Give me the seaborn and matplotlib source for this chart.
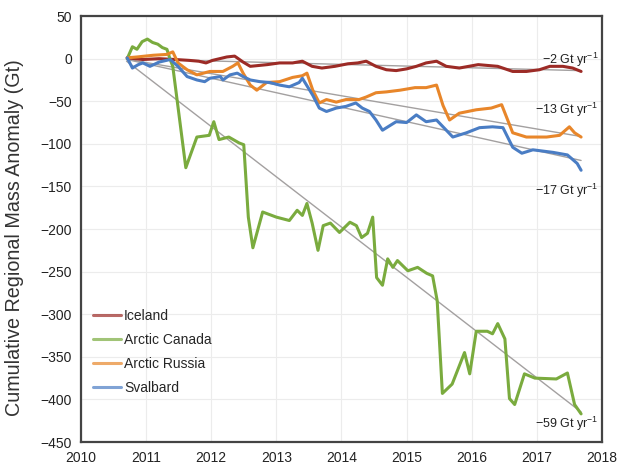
import numpy as np
import pandas as pd
import seaborn as sns
import matplotlib.pyplot as plt

# Cumulative regional mass anomaly (Gt)
iceland_t = [2010.71, 2010.95, 2011.2, 2011.45, 2011.66, 2011.81, 2011.92, 2012.02, 2012.24, 2012.36,
             2012.49, 2012.6, 2012.86, 2013.05, 2013.25, 2013.4, 2013.55, 2013.7, 2013.9, 2014.1,
             2014.25, 2014.38, 2014.53, 2014.69, 2014.84, 2015.0, 2015.15, 2015.3, 2015.46, 2015.61,
             2015.81, 2016.1, 2016.4, 2016.63, 2016.84, 2017.04, 2017.2, 2017.4, 2017.55, 2017.68]
iceland_v = [1, -1, 0, -1, -2, -3, -5, -2, 2, 3,
             -4, -9, -7, -5, -5, -3, -9, -11, -9, -6,
             -5, -3, -9, -13, -14, -12, -9, -5, -3, -9,
             -11, -7, -9, -15, -15, -13, -9, -9, -11, -15]

canada_t = [2010.71, 2010.79, 2010.86, 2010.94, 2011.02, 2011.1, 2011.18, 2011.25, 2011.32, 2011.37,
            2011.41, 2011.61, 2011.78, 2011.97, 2012.04, 2012.12, 2012.27, 2012.43, 2012.5, 2012.57,
            2012.64, 2012.79, 2013.0, 2013.2, 2013.32, 2013.4, 2013.47, 2013.55, 2013.64, 2013.72,
            2013.83, 2013.97, 2014.13, 2014.23, 2014.31, 2014.4, 2014.48, 2014.54, 2014.63, 2014.71,
            2014.79, 2014.86, 2015.02, 2015.17, 2015.31, 2015.4, 2015.47, 2015.55, 2015.7, 2015.89,
            2015.97, 2016.07, 2016.24, 2016.32, 2016.4, 2016.51, 2016.58, 2016.66, 2016.81, 2016.97,
            2017.3, 2017.47, 2017.58, 2017.68]
canada_v = [0, 14, 11, 20, 23, 19, 17, 13, 11, -1,
            -9, -128, -92, -90, -74, -95, -92, -99, -101, -186,
            -222, -180, -186, -190, -178, -184, -170, -193, -225, -196,
            -193, -204, -192, -196, -210, -205, -186, -257, -266, -235,
            -245, -237, -249, -245, -252, -255, -284, -393, -382, -345,
            -370, -320, -320, -323, -311, -329, -399, -406, -370, -375,
            -376, -369, -406, -417]

russia_t = [2010.71, 2010.86, 2011.11, 2011.32, 2011.41, 2011.49, 2011.63, 2011.78, 2011.98, 2012.18,
            2012.33, 2012.41, 2012.49, 2012.6, 2012.7, 2012.85, 2013.05, 2013.25, 2013.4, 2013.47,
            2013.56, 2013.66, 2013.77, 2013.92, 2014.07, 2014.27, 2014.38, 2014.53, 2014.69, 2014.9,
            2015.13, 2015.3, 2015.46, 2015.56, 2015.66, 2015.81, 2016.07, 2016.3, 2016.46, 2016.63,
            2016.84, 2017.15, 2017.35, 2017.5, 2017.58, 2017.68]
russia_v = [1, 2, 4, 5, 8, -5, -13, -19, -15, -15,
            -9, -5, -17, -31, -37, -28, -27, -22, -20, -17,
            -37, -52, -48, -51, -48, -48, -45, -40, -39, -37,
            -34, -34, -31, -55, -72, -64, -60, -58, -54, -87,
            -92, -92, -90, -80, -87, -92]

svalbard_t = [2010.71, 2010.79, 2010.88, 2010.95, 2011.06, 2011.2, 2011.37, 2011.49, 2011.63, 2011.78,
              2011.9, 2011.98, 2012.14, 2012.18, 2012.29, 2012.4, 2012.49, 2012.6, 2012.75, 2012.9,
              2013.05, 2013.2, 2013.35, 2013.4, 2013.56, 2013.66, 2013.77, 2013.92, 2014.07, 2014.22,
              2014.32, 2014.43, 2014.53, 2014.63, 2014.84, 2015.0, 2015.15, 2015.3, 2015.46, 2015.56,
              2015.71, 2015.92, 2016.12, 2016.32, 2016.48, 2016.63, 2016.77, 2016.94, 2017.25, 2017.47,
              2017.62, 2017.68]
svalbard_v = [1, -11, -7, -5, -9, -4, -1, -9, -21, -25,
              -27, -23, -21, -25, -19, -17, -21, -25, -27, -28,
              -31, -33, -28, -23, -43, -58, -62, -58, -56, -52,
              -58, -62, -72, -84, -74, -75, -66, -74, -72, -80,
              -92, -87, -81, -80, -81, -104, -111, -107, -110, -113,
              -123, -131]

regions = ["Iceland", "Arctic Canada", "Arctic Russia", "Svalbard"]
rates = [-2, -13, -17, -59]  # Gt/yr, trend labels
rate_label_y = [-1, -60, -155, -429]
colors = ["#9c2b26", "#7aab3e", "#e8862a", "#4a7dc4"]

df = pd.concat([
    pd.DataFrame({"year": iceland_t, "mass": iceland_v, "region": "Iceland"}),
    pd.DataFrame({"year": canada_t, "mass": canada_v, "region": "Arctic Canada"}),
    pd.DataFrame({"year": russia_t, "mass": russia_v, "region": "Arctic Russia"}),
    pd.DataFrame({"year": svalbard_t, "mass": svalbard_v, "region": "Svalbard"}),
])

sns.set_style("whitegrid", {"grid.color": "#ececec", "axes.edgecolor": "#444444"})
plt.rcParams["font.family"] = ["Liberation Sans", "DejaVu Sans"]
plt.rcParams["mathtext.fontset"] = "custom"
plt.rcParams["mathtext.rm"] = "Liberation Sans"
plt.rcParams["mathtext.it"] = "Liberation Sans"

fig = plt.figure(figsize=(6.18, 4.66), dpi=100)
ax = fig.add_axes([0.131, 0.0515, 0.843, 0.914])

# linear trends
t0 = 2010.65
trend_t = np.array([2010.7, 2017.68])
for rate in rates:
    sns.lineplot(x=trend_t, y=rate * (trend_t - t0), color="#a3a0a0", lw=1, ax=ax)

sns.lineplot(data=df, x="year", y="mass", hue="region", hue_order=regions,
             palette=colors, lw=2.2, sort=False, estimator=None, ax=ax)

for rate, ly in zip(rates, rate_label_y):
    ax.text(2017.95, ly, "\u2212%d Gt yr$^{-1}$" % abs(rate), ha="right", va="center",
            fontsize=9, color="#222222")

ax.set_xlim(2010, 2018)
ax.set_ylim(-450, 50)
ax.set_xticks(range(2010, 2019))
ax.set_yticks(range(-450, 51, 50))
ax.tick_params(labelsize=10, length=3, color="#444444", colors="#222222")
ax.set_xlabel("")
ax.set_ylabel("Cumulative Regional Mass Anomaly (Gt)", fontsize=14.2, color="#333333")
ax.yaxis.set_label_coords(-0.11, 0.48)
for s in ax.spines.values():
    s.set_linewidth(1.6)

handles, labels = ax.get_legend_handles_labels()
for h in handles:
    h.set_alpha(0.7)
ax.legend(handles, labels, loc="upper left", bbox_to_anchor=(0.0, 0.342), frameon=False,
          fontsize=10, labelspacing=0.72, handlelength=2.0, handletextpad=0.2)

fig.savefig("out.png", dpi=100)
